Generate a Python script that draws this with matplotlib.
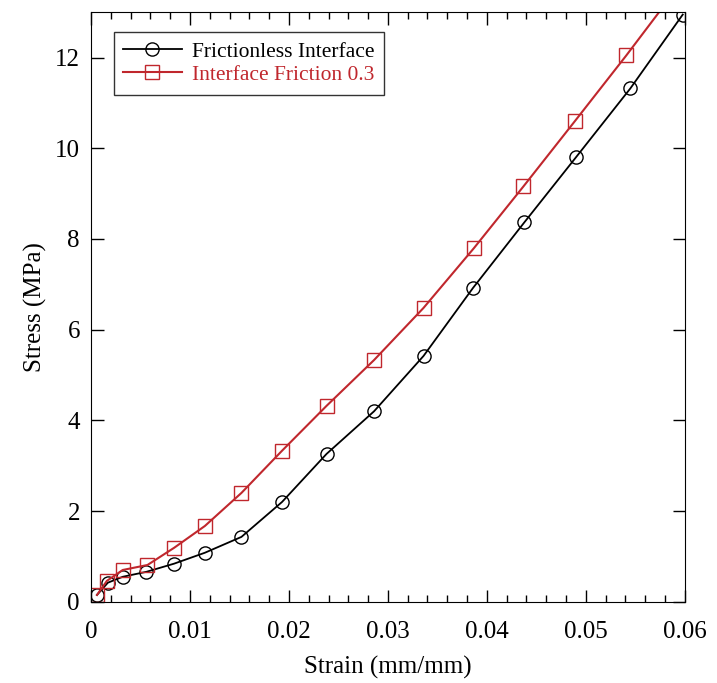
import matplotlib.pyplot as plt
from matplotlib.ticker import MultipleLocator

# Frictionless interface
strain_a = [0.0006, 0.0017, 0.0032, 0.0056, 0.0084, 0.0115, 0.0152, 0.0193,
            0.0238, 0.0286, 0.0336, 0.0386, 0.0438, 0.0490, 0.0545, 0.0598]
stress_a = [0.15, 0.42, 0.55, 0.66, 0.84, 1.08, 1.43, 2.20,
            3.26, 4.20, 5.42, 6.92, 8.37, 9.80, 11.32, 12.95]

# Interface friction 0.3 (last point has no marker, line runs off the top)
strain_b = [0.0006, 0.0016, 0.0032, 0.0057, 0.0084, 0.0115, 0.0152, 0.0193,
            0.0238, 0.0286, 0.0336, 0.0387, 0.0437, 0.0489, 0.0541, 0.0600]
stress_b = [0.15, 0.46, 0.70, 0.81, 1.19, 1.67, 2.40, 3.33,
            4.32, 5.33, 6.48, 7.80, 9.16, 10.60, 12.05, 13.75]

red = "#c0272d"

plt.rcParams["font.family"] = ["Liberation Serif", "DejaVu Serif"]

fig = plt.figure(figsize=(7.17, 6.83), dpi=100)
ax = fig.add_axes([0.127, 0.119, 0.828, 0.863])

ax.plot(strain_a, stress_a, color="black", lw=1.3, marker="o", ms=9.5,
        mfc="none", mec="black", mew=1.0, label="Frictionless Interface")
ax.plot(strain_b, stress_b, color=red, lw=1.5, marker="s", ms=10.5,
        mfc="none", mec=red, mew=1.0, markevery=list(range(len(strain_b) - 1)),
        label="Interface Friction 0.3")

ax.set_xlim(0, 0.06)
ax.set_ylim(0, 13)
ax.xaxis.set_minor_locator(MultipleLocator(0.002))
ax.yaxis.set_major_locator(MultipleLocator(2))
ax.set_xticks([0, 0.01, 0.02, 0.03, 0.04, 0.05, 0.06],
              ["0", "0.01", "0.02", "0.03", "0.04", "0.05", "0.06"])
ax.tick_params(which="both", direction="in", top=True, right=True, labelsize=18)
ax.tick_params(which="major", length=9, width=1)
ax.tick_params(which="minor", length=5, width=1)
ax.tick_params(axis="x", pad=14)
ax.tick_params(axis="y", pad=8)

ax.set_xlabel("Strain (mm/mm)", fontsize=18, labelpad=9)
ax.set_ylabel("Stress (MPa)", fontsize=18, labelpad=6)

leg = ax.legend(loc="upper left", fontsize=15.5, frameon=True, fancybox=False,
                edgecolor="black", handlelength=2.7, handletextpad=0.5,
                borderpad=0.45, labelspacing=0.15,
                bbox_to_anchor=(0.02, 0.985))
leg.get_frame().set_linewidth(1.0)
leg.get_texts()[1].set_color(red)

fig.savefig("out.png", dpi=100)
